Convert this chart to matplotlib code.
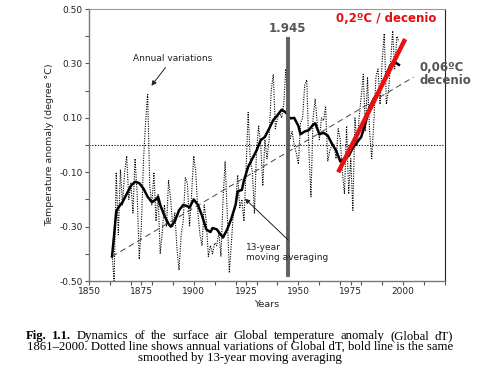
import matplotlib
matplotlib.use("Agg")
import matplotlib.pyplot as plt
import numpy as np

# annual global dT, 1861-1998
years = np.arange(1861, 1999)
annual = [-0.40, -0.50, -0.10, -0.33, -0.09, -0.22, -0.10, -0.04, -0.20, -0.14,
          -0.25, -0.05, -0.18, -0.42, -0.30, -0.06, 0.08, 0.19, -0.15, -0.22,
          -0.10, -0.28, -0.18, -0.40, -0.32, -0.22, -0.30, -0.13, -0.20, -0.30,
          -0.25, -0.38, -0.46, -0.33, -0.28, -0.12, -0.14, -0.30, -0.18, -0.04,
          -0.10, -0.25, -0.33, -0.37, -0.22, -0.28, -0.41, -0.37, -0.40, -0.36,
          -0.37, -0.32, -0.41, -0.20, -0.06, -0.25, -0.47, -0.36, -0.24, -0.22,
          -0.11, -0.23, -0.20, -0.28, -0.09, 0.12, -0.05, -0.10, -0.25, -0.02,
          0.07, 0.00, -0.15, 0.02, -0.05, 0.02, 0.20, 0.26, 0.06, 0.10,
          0.12, 0.10, 0.15, 0.28, 0.17, 0.02, 0.05, 0.00, -0.03, -0.07,
          0.08, 0.10, 0.22, 0.24, -0.02, -0.19, 0.10, 0.17, 0.08, 0.02,
          0.10, 0.09, 0.14, -0.06, -0.02, 0.00, 0.00, -0.05, 0.06, 0.02,
          -0.10, -0.18, 0.07, -0.18, -0.05, -0.24, 0.10, 0.00, 0.10, 0.18,
          0.26, 0.05, 0.25, 0.05, -0.05, 0.08, 0.25, 0.28, 0.15, 0.31,
          0.41, 0.15, 0.20, 0.30, 0.42, 0.28, 0.40, 0.38]

# 13-year moving average
smooth_years = [1861, 1862, 1863, 1864, 1866, 1868, 1870, 1872, 1874, 1876,
                1878, 1880, 1882, 1883, 1884, 1886, 1888, 1889, 1891, 1893,
                1895, 1897, 1898, 1900, 1902, 1904, 1906, 1908, 1909, 1911,
                1914, 1916, 1918, 1920, 1921, 1923, 1924, 1926, 1928, 1930,
                1932, 1934, 1936, 1938, 1940, 1942, 1944, 1946, 1948, 1950,
                1951, 1953, 1955, 1957, 1958, 1960, 1962, 1964, 1966, 1968,
                1970, 1972, 1974, 1976, 1978, 1980, 1982, 1984, 1986, 1988,
                1990, 1992, 1994, 1996, 1998]
smooth = [-0.41, -0.33, -0.245, -0.23, -0.21, -0.18, -0.15, -0.135, -0.14, -0.16,
          -0.19, -0.21, -0.20, -0.19, -0.22, -0.26, -0.29, -0.30, -0.28, -0.24,
          -0.22, -0.225, -0.23, -0.20, -0.22, -0.26, -0.31, -0.32, -0.305, -0.31,
          -0.34, -0.31, -0.27, -0.22, -0.17, -0.165, -0.13, -0.08, -0.05, -0.02,
          0.018, 0.03, 0.06, 0.092, 0.11, 0.13, 0.12, 0.098, 0.10, 0.07,
          0.04, 0.05, 0.055, 0.075, 0.08, 0.04, 0.045, 0.035, 0.005, -0.02,
          -0.06, -0.05, -0.04, -0.01, 0.01, 0.03, 0.08, 0.14, 0.17, 0.195,
          0.225, 0.26, 0.295, 0.306, 0.295]

# trend lines (end points)
trend_long_x = [1861, 2005]
trend_long_y = [-0.41, 0.25]
trend_recent_x = [1969, 2001]
trend_recent_y = [-0.10, 0.39]

mark_year = 1945
mark_range = [-0.485, 0.397]

fig = plt.figure(figsize=(4.79, 3.80), dpi=100)
ax = fig.add_axes([0.1858, 0.2605, 0.7432, 0.7155])

ax.axhline(0, color="black", linestyle=(0, (1, 1.5)), linewidth=0.8)
ax.plot(years, annual, color="black", linestyle=(0, (1, 1.2)), linewidth=0.8)
ax.plot(trend_long_x, trend_long_y, color="#444444", linestyle=(0, (6, 4)), linewidth=0.7)
ax.plot(smooth_years, smooth, color="black", linewidth=1.8)
ax.plot([mark_year, mark_year], mark_range, color="#606060", linewidth=2.8, solid_capstyle="butt")
ax.plot(trend_recent_x, trend_recent_y, color="#e81010", linewidth=3.2, solid_capstyle="butt")

ax.text(mark_year, 0.405, "1.945", color="#555555", fontsize=8.5, fontweight="bold",
        ha="center", va="bottom")
ax.text(1992, 0.44, "0,2ºC / decenio", color="#e01010", fontsize=8.5, fontweight="bold",
        ha="center", va="bottom")
ax.text(2008, 0.31, "0,06ºC\ndecenio", color="#555555", fontsize=8.5, fontweight="bold",
        ha="left", va="top", linespacing=1.05, clip_on=False)

ax.annotate("Annual variations", xy=(1879, 0.21), xytext=(1890, 0.32),
            fontsize=6.5, color="#222222", ha="center", va="center",
            arrowprops=dict(arrowstyle="-|>", color="#222222", lw=0.7, mutation_scale=7))
ax.annotate("13-year\nmoving averaging", xy=(1923.5, -0.19), xytext=(1925, -0.36),
            fontsize=6.5, color="#222222", ha="left", va="top", linespacing=1.1,
            arrowprops=dict(arrowstyle="-|>", color="#222222", lw=0.7, mutation_scale=7,
                            shrinkA=0, relpos=(0.55, 1.0)))

ax.set_xlim(1850, 2020)
ax.set_ylim(-0.5, 0.5)
ax.set_xticks([1850, 1875, 1900, 1925, 1950, 1975, 2000])
ax.set_xticks(np.arange(1850, 2021, 10), minor=True)
ax.set_yticks([-0.5, -0.3, -0.1, 0.1, 0.3, 0.5])
ax.set_yticklabels(["-0.50", "-0.30", "-0.10", "0.10", "0.30", "0.50"])
ax.set_yticks(np.arange(-0.4, 0.5, 0.2), minor=True)
ax.tick_params(axis="both", which="both", direction="out", length=3, width=0.8,
               color="#555555", labelsize=6.5, labelcolor="#222222", pad=1.5)

for side in ["left", "bottom"]:
    ax.spines[side].set_color("#777777")
    ax.spines[side].set_linewidth(1.0)
ax.spines["top"].set_color("#999999")
ax.spines["right"].set_color("#222222")
ax.spines["top"].set_linewidth(0.8)
ax.spines["right"].set_linewidth(0.8)

ax.set_ylabel("Temperature anomaly (degree °C)", fontsize=6.8, color="#222222", labelpad=4)
ax.set_xlabel("Years", fontsize=6.8, color="#222222", labelpad=3)

# caption, first line justified between the margins
cap = dict(family="Liberation Serif", fontsize=9.2, color="black", va="center")
x0, x1 = 26, 453
line1 = ["Fig.", "1.1.", "Dynamics", "of", "the", "surface", "air", "Global",
         "temperature", "anomaly", "(Global", "dT)"]
renderer = fig.canvas.get_renderer()
words = []
for i, w in enumerate(line1):
    weight = "bold" if i < 2 else "normal"
    t = fig.text(0, 1 - 336 / 380, w, ha="left", fontweight=weight, **cap)
    words.append(t)
widths = [t.get_window_extent(renderer).width for t in words]
gap = (x1 - x0 - sum(widths)) / (len(words) - 1)
xpos = x0
for t, w in zip(words, widths):
    t.set_x(xpos / 479)
    xpos += w + gap

fig.text(240 / 479, 1 - 347 / 380,
         "1861\u20132000. Dotted line shows annual variations of Global dT, bold line is the same",
         ha="center", **cap)
fig.text(240 / 479, 1 - 358 / 380, "smoothed by 13-year moving averaging",
         ha="center", **cap)

fig.savefig("out.png", dpi=100)
